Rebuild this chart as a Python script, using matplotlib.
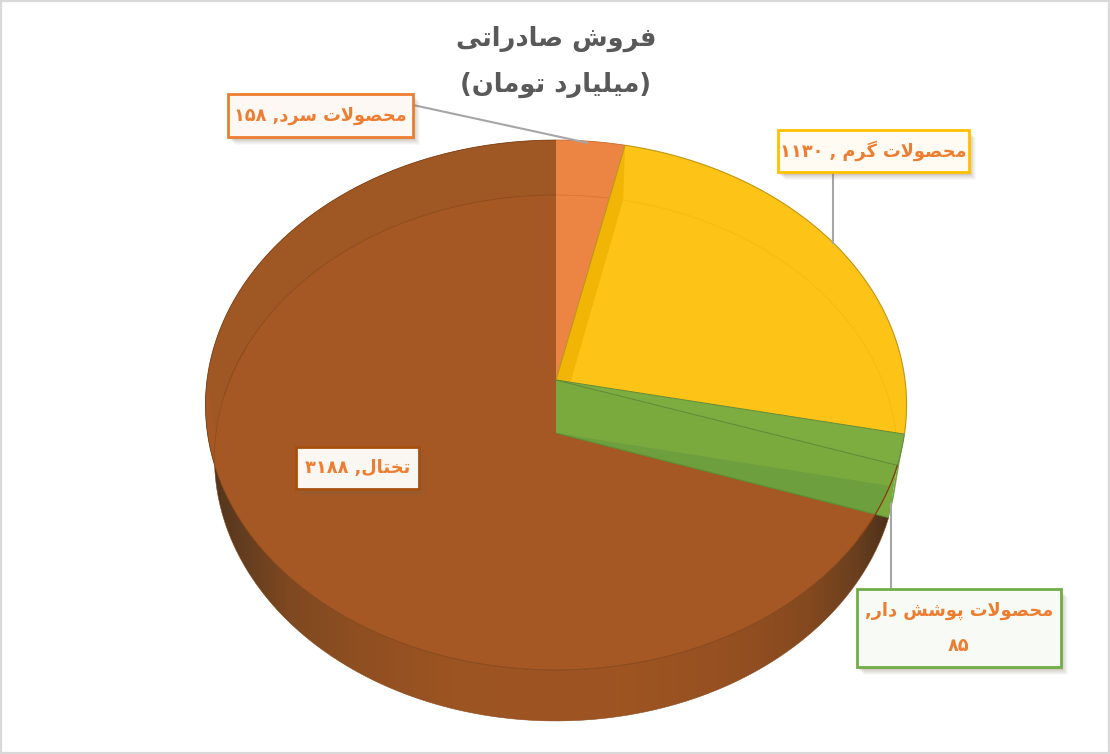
import numpy as np
from matplotlib import pyplot as plt
from matplotlib.colors import LinearSegmentedColormap
from matplotlib.patches import Polygon, Rectangle

title_lines = ["فروش صادراتی", "(میلیارد تومان)"]
categories = ["محصولات سرد", "محصولات گرم", "محصولات پوشش دار", "تختال"]
values = [158, 1130, 85, 3188]
label_lines = [
    ["محصولات سرد, ۱۵۸"],
    ["محصولات گرم , ۱۱۳۰"],
    ["محصولات پوشش دار,", "۸۵"],
    ["تختال, ۳۱۸۸"],
]
top_colors = ["#EC8543", "#FDC316", "#7DAD40", "#A55823"]
edge_colors = ["#ED7D31", "#FFC000", "#70AD47", "#A5500F"]

# (initial, medial, final, isolated), None where the letter does not join forward
FORMS = {
    "ا": (None, None, "\ufe8e", "\ufe8d"),
    "د": (None, None, "\ufeaa", "\ufea9"),
    "ر": (None, None, "\ufeae", "\ufead"),
    "و": (None, None, "\ufeee", "\ufeed"),
    "ت": ("\ufe97", "\ufe98", "\ufe96", "\ufe95"),
    "پ": ("\ufb58", "\ufb59", "\ufb57", "\ufb56"),
    "ح": ("\ufea3", "\ufea4", "\ufea2", "\ufea1"),
    "خ": ("\ufea7", "\ufea8", "\ufea6", "\ufea5"),
    "س": ("\ufeb3", "\ufeb4", "\ufeb2", "\ufeb1"),
    "ش": ("\ufeb7", "\ufeb8", "\ufeb6", "\ufeb5"),
    "ص": ("\ufebb", "\ufebc", "\ufeba", "\ufeb9"),
    "ف": ("\ufed3", "\ufed4", "\ufed2", "\ufed1"),
    "گ": ("\ufb94", "\ufb95", "\ufb93", "\ufb92"),
    "ل": ("\ufedf", "\ufee0", "\ufede", "\ufedd"),
    "م": ("\ufee3", "\ufee4", "\ufee2", "\ufee1"),
    "ن": ("\ufee7", "\ufee8", "\ufee6", "\ufee5"),
    "ی": ("\ufbfe", "\ufbff", "\ufbfd", "\ufbfc"),
}
DIGITS = "۰۱۲۳۴۵۶۷۸۹"


def joins_forward(ch):
    return ch in FORMS and FORMS[ch][0] is not None


def shape(text):
    # matplotlib does no arabic shaping, so pick the joined glyphs by hand
    out = []
    i = 0
    while i < len(text):
        ch = text[i]
        if ch not in FORMS:
            out.append(ch)
            i += 1
            continue
        prev = text[i - 1] if i > 0 else ""
        nxt = text[i + 1] if i + 1 < len(text) else ""
        joined = joins_forward(prev)
        if ch == "ل" and nxt == "ا":
            out.append("\ufefc" if joined else "\ufefb")
            i += 2
            continue
        if joined and joins_forward(ch) and nxt in FORMS:
            out.append(FORMS[ch][1])
        elif joined:
            out.append(FORMS[ch][2])
        elif joins_forward(ch) and nxt in FORMS:
            out.append(FORMS[ch][0])
        else:
            out.append(FORMS[ch][3])
        i += 1
    # visual order: right to left, digit runs stay as they are
    runs = []
    for ch in "".join(out):
        if ch in DIGITS and runs and runs[-1][-1] in DIGITS:
            runs[-1] += ch
        else:
            runs.append({"(": ")", ")": "("}.get(ch, ch))
    return "".join(runs[::-1])


def rim(theta, cy=380.0, a=349.0, b=262.6, k=0.0943):
    # theta in degrees, clockwise from 12 o'clock, on a disc seen in perspective
    t = np.radians(theta)
    u, v = np.sin(t), np.cos(t)
    w = 1 + k * v
    return np.column_stack([556 + a * u / w, cy - b * v / w])


def rim_low(theta):
    return rim(theta, cy=433.0, a=340.0, b=260.6, k=0.095)


def arc(func, a0, a1):
    return func(np.linspace(a0, a1, 200))


APEX_TOP = np.array([[556.0, 380.0]])
APEX_LOW = np.array([[556.0, 433.0]])

bounds = np.concatenate([[0], np.cumsum(values) / np.sum(values) * 360])
a_orange, a_yellow, a_green = bounds[1], bounds[2], bounds[3]

fig = plt.figure(figsize=(11.10, 7.54), dpi=100, facecolor="white")
ax = fig.add_axes([0, 0, 1, 1])

ax.add_patch(Rectangle((1, 1), 1108, 752, fc="white", ec="#D9D9D9", lw=1.6, zorder=0))

# outer side of the big slice, a left-right gradient clipped to the side shape
side_cmap = LinearSegmentedColormap.from_list("side", [
    (0.0, "#4E321D"), (0.04, "#5E3B1F"), (0.12, "#7E4820"), (0.22, "#8F4F21"), (0.36, "#9C5422"),
    (0.6, "#9F5522"), (0.78, "#944F21"), (0.88, "#84491F"), (0.95, "#6A3F1E"), (1.0, "#4A2F1B"),
])
side_shape = np.vstack([arc(rim, a_green, 290), arc(rim_low, 290, a_green)])
side_img = ax.imshow(np.linspace(0, 1, 512).reshape(1, -1), cmap=side_cmap, extent=(205, 892, 740, 380),
                     aspect="auto", zorder=1, interpolation="bilinear")
side_img.set_clip_path(Polygon(side_shape, transform=ax.transData))
ax.set_xlim(0, 1110)
ax.set_ylim(754, 0)
ax.axis("off")

# top faces
face_polys = []
for i, color in enumerate(top_colors):
    poly = np.vstack([APEX_TOP, arc(rim, bounds[i], bounds[i + 1])])
    face_polys.append(poly)
    ax.fill(poly[:, 0], poly[:, 1], fc=color, ec="none", zorder=2)
orange_poly, yellow_poly, green_poly, brown_poly = face_polys

# brown: slightly darker band outside the bottom face seen through the top
brown_clip = Polygon(brown_poly, transform=ax.transData)
brown_band = ax.fill(*np.vstack([rim(np.linspace(270, 360, 100)), rim_low(np.linspace(360, 270, 100))]).T,
                     fc="#9F5724", ec="none", zorder=2.1)[0]
brown_band.set_clip_path(brown_clip)

# yellow: inner wall, then the bottom face over it
yellow_clip = Polygon(yellow_poly, transform=ax.transData)
wall = np.vstack([rim(np.array([a_orange])), rim_low(np.array([a_orange])), APEX_LOW, APEX_TOP])
p = ax.fill(wall[:, 0], wall[:, 1], fc="#F0B505", ec="none", zorder=2.2)[0]
p.set_clip_path(yellow_clip)
low = np.vstack([APEX_LOW, arc(rim_low, a_orange, a_yellow)])
p = ax.fill(low[:, 0], low[:, 1], fc="#FDC316", ec="none", zorder=2.3)[0]
p.set_clip_path(yellow_clip)

# green: wall of the slice end lies over the brown face
wall = np.vstack([APEX_TOP, rim(np.array([a_green])), rim_low(np.array([a_green])), APEX_LOW])
ax.fill(wall[:, 0], wall[:, 1], fc="#7AAA3E", ec="none", zorder=2.4)
outer = np.vstack([arc(rim, a_yellow, a_green), arc(rim_low, a_green, a_yellow)])
ax.fill(outer[:, 0], outer[:, 1], fc="#74A63F", ec="none", zorder=2.4)
low = np.vstack([APEX_LOW, arc(rim_low, a_yellow, a_green)])
p = ax.fill(low[:, 0], low[:, 1], fc="#6E9F3E", ec="none", zorder=2.5)[0]
p.set_clip_path(Polygon(np.vstack([APEX_TOP, arc(rim, a_yellow, a_green + 20), APEX_LOW]), transform=ax.transData))

# edges
line_style = dict(solid_capstyle="butt")
pts = arc(rim, 0, a_orange)
ax.plot(pts[:, 0], pts[:, 1], color="#C96A2B", lw=0.6, zorder=3, **line_style)
pts = arc(rim, a_orange, a_yellow)
ax.plot(pts[:, 0], pts[:, 1], color="#C2960F", lw=0.8, zorder=3, **line_style)
pts = arc(rim, a_yellow, a_green)
ax.plot(pts[:, 0], pts[:, 1], color="#5F8A36", lw=0.8, zorder=3, **line_style)
pts = arc(rim, a_green, 360)
ax.plot(pts[:, 0], pts[:, 1], color="#7A3C12", lw=0.55, zorder=3, **line_style)
pts = arc(rim_low, a_green, 290)
ax.plot(pts[:, 0], pts[:, 1], color="#8A4A1D", lw=0.4, zorder=3, **line_style)

for poly, color, a0, a1 in [
    (orange_poly, "#E0732F", 0, a_orange),
    (yellow_poly, "#F5BB0E", a_orange, a_yellow),
    (brown_poly, "#8E4C1E", 278, 360),
]:
    pts = arc(rim_low, a0, a1)
    line = ax.plot(pts[:, 0], pts[:, 1], color=color, lw=0.6, zorder=3, **line_style)[0]
    line.set_clip_path(Polygon(poly, transform=ax.transData))

for theta, color in [(a_orange, "#B98F1C"), (a_yellow, "#5F8A36"), (a_green, "#5F8A36")]:
    end = rim(np.array([theta]))[0]
    ax.plot([556, end[0]], [380, end[1]], color=color, lw=0.7, zorder=3.1, **line_style)
low_end = rim_low(np.array([a_green]))[0]
ax.plot([556, low_end[0]], [433, low_end[1]], color="#5C8F38", lw=0.8, zorder=3.1, **line_style)
pts = arc(rim, a_green, 125)
ax.plot(pts[:, 0], pts[:, 1], color="#8A3F0E", lw=0.8, zorder=3.2, **line_style)

# leader lines
for xs, ys in [([413, 588], [105, 143]), ([833, 833], [172, 244]), ([890.5, 890.5], [503, 588])]:
    ax.plot(xs, ys, color="#A6A6A6", lw=1.5, zorder=4, **line_style)

# label boxes, the shadow is a few offset rectangles
boxes = [(228, 94, 185, 43), (778, 130, 191, 42), (857, 589, 204, 78), (296, 447, 123, 42)]
line_centers = [[115.5], [151], [611, 646], [468]]
text_centers = [320.5, 873.5, 959, 357.5]
for (x, y, w, h), ec, lines, ycs, xc in zip(boxes, edge_colors, label_lines, line_centers, text_centers):
    for off, alpha in [(8, 0.04), (7, 0.05), (6, 0.06), (5, 0.07), (4, 0.08), (3, 0.1)]:
        ax.add_patch(Rectangle((x + off - 1, y + off), w, h, fc="#7F6A50", ec="none", alpha=alpha, zorder=5))
    ax.add_patch(Rectangle((x, y), w, h, fc="white", ec="none", zorder=5.1))
    ax.add_patch(Rectangle((x, y), w, h, fc=ec, ec="none", alpha=0.05, zorder=5.2))
    ax.add_patch(Rectangle((x, y), w, h, ec=ec, lw=2, zorder=5.3, fill=False))
    for line_text, yc in zip(lines, ycs):
        ax.text(xc, yc, shape(line_text), color="#ED7D31", fontsize=12.8, fontweight="bold",
                family="DejaVu Sans", ha="center", va="center", zorder=6)

# title
for line_text, yc in zip(title_lines, [39, 85]):
    ax.text(556, yc, shape(line_text), color="#595959", fontsize=18.5, fontweight="bold",
            family="DejaVu Sans", ha="center", va="center", zorder=6)

fig.savefig("out.png", dpi=100)
